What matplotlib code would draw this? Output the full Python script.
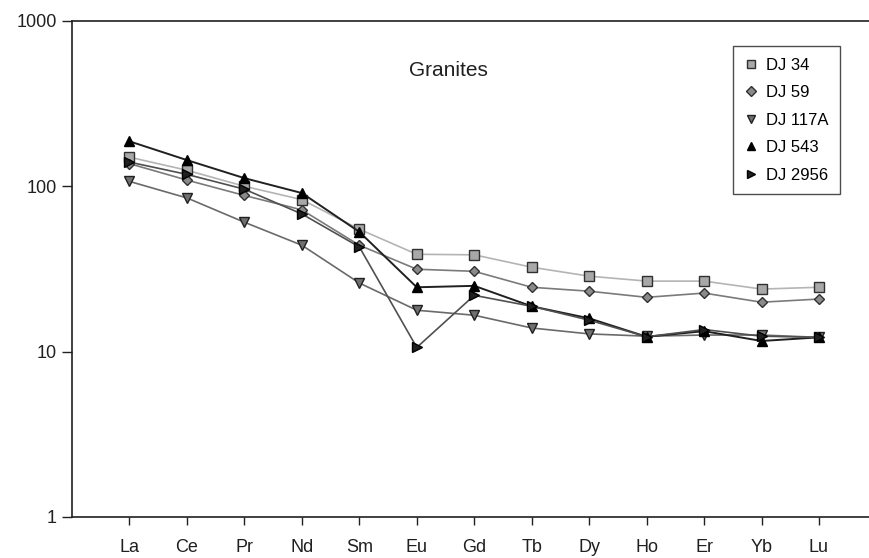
import matplotlib
matplotlib.use("Agg")
import matplotlib.pyplot as plt

elements = ["La", "Ce", "Pr", "Nd", "Sm", "Eu", "Gd", "Tb", "Dy", "Ho", "Er", "Yb", "Lu"]

dj34 = [150, 125, 100, 83, 55, 38.8, 38.5, 32.4, 28.6, 26.7, 26.7, 23.9, 24.5]
dj59 = [137, 109, 88, 72, 44, 31.5, 30.6, 24.5, 23.2, 21.3, 22.6, 19.9, 20.8]
dj117a = [107, 85, 60.6, 44, 26, 17.8, 16.6, 13.9, 12.8, 12.4, 12.6, 12.6, 12.2]
dj543 = [187, 144, 112, 91, 53, 24.5, 25, 18.8, 15.9, 12.3, 13.3, 11.6, 12.2]
dj2956 = [140, 118, 96, 68, 43, 10.6, 21.9, 18.8, 15.5, 12.3, 13.6, 12.4, 12.2]

plt.rcParams["font.family"] = ["Liberation Sans", "DejaVu Sans"]

fig = plt.figure(figsize=(8.7, 5.58), dpi=100)
ax = fig.add_axes([0.0828, 0.0735, 0.92, 0.889])

x = list(range(1, len(elements) + 1))

ax.plot(x, dj34, color="#b4b4b4", lw=1.2, marker="s", ms=7,
        mfc="#a8a8a8", mec="#303030", mew=1.0, label="DJ 34")
ax.plot(x, dj59, color="#7a7a7a", lw=1.2, marker="D", ms=5.5,
        mfc="#8a8a8a", mec="#303030", mew=1.0, label="DJ 59")
ax.plot(x, dj117a, color="#6a6a6a", lw=1.2, marker="v", ms=7,
        mfc="#707070", mec="#202020", mew=1.0, label="DJ 117A")
ax.plot(x, dj543, color="#202020", lw=1.4, marker="^", ms=7,
        mfc="#000000", mec="#000000", label="DJ 543")
ax.plot(x, dj2956, color="#505050", lw=1.2, marker=">", ms=7,
        mfc="#202020", mec="#000000", label="DJ 2956")

ax.set_yscale("log")
ax.set_ylim(1, 1000)
ax.set_xlim(0, 13.93)
ax.set_yticks([1, 10, 100, 1000])
ax.set_yticklabels(["1", "10", "100", "1000"])
ax.yaxis.set_minor_locator(matplotlib.ticker.NullLocator())
ax.set_xticks(x)
ax.set_xticklabels(elements)

ax.spines["right"].set_visible(False)
for s in ["left", "bottom", "top"]:
    ax.spines[s].set_color("#202020")
    ax.spines[s].set_linewidth(1.2)

ax.tick_params(axis="x", direction="out", length=6, width=1.0, pad=10,
               labelsize=13, colors="#202020")
ax.tick_params(axis="y", direction="out", length=7, width=1.0, pad=4,
               labelsize=13, colors="#202020")

ax.text(448 / 870, 1 - 70 / 558, "Granites", transform=fig.transFigure,
        ha="center", va="center", fontsize=15, color="#202020")

leg = ax.legend(loc="upper left", bbox_to_anchor=(733 / 870, 1 - 46 / 558),
                bbox_transform=fig.transFigure, frameon=True, fancybox=False,
                fontsize=12, handlelength=0.8, handletextpad=0.5,
                labelspacing=0.75, borderpad=0.7, borderaxespad=0,
                markerscale=0.85)
leg.get_frame().set_edgecolor("#202020")
leg.get_frame().set_linewidth(1.0)
for h in leg.get_lines():
    h.set_linestyle("none")

fig.savefig("out.png", dpi=100)
